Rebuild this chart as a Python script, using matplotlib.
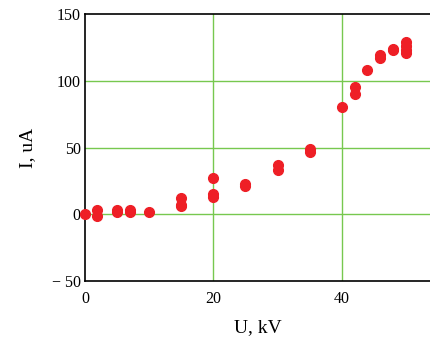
import numpy as np
import matplotlib
matplotlib.use("Agg")
import matplotlib.pyplot as plt

# measured points (voltage kV, current uA)
u_kv = [0, 1.8, 1.8, 5, 5, 7, 7, 10, 15, 15, 15, 20, 20, 20,
        25, 25, 30, 30, 35, 35, 40, 42, 42, 44, 46, 46, 48, 48,
        50, 50, 50, 50]
i_ua = [0, 3, -1, 2, 3, 2, 3, 2, 12, 7, 6, 27, 15, 13,
        23, 21, 37, 33, 49, 47, 80, 95, 90, 108, 119, 117, 124, 123,
        129, 126, 123, 121]

x_ticks = [0, 20, 40]
y_ticks = [-50, 0, 50, 100, 150]
y_tick_labels = ["\u2212 50", "0", "50", "100", "150"]

plt.rcParams['font.family'] = ['Liberation Serif', 'DejaVu Serif']

fig = plt.figure(figsize=(4.31, 3.42), dpi=100)
ax = fig.add_axes([85 / 431, 61 / 342, 1 - 85 / 431, 267 / 342])

green = '#77c84f'
for x in [20, 40]:
    ax.axvline(x, color=green, lw=1, zorder=1)
for y in [0, 50, 100]:
    ax.axhline(y, color=green, lw=1, zorder=1)

ax.plot(u_kv, i_ua, 'o', color='#ee1f26', ms=7, mec='#ee1f26', zorder=3, clip_on=False)

ax.set_xlim(0, 53.9)
ax.set_ylim(-50, 150)
ax.set_xticks(x_ticks)
ax.set_xticklabels([str(v) for v in x_ticks])
ax.set_yticks(y_ticks)
ax.set_yticklabels(y_tick_labels)
ax.tick_params(length=0, labelsize=11.5)
ax.tick_params(axis='x', pad=7)
ax.tick_params(axis='y', pad=3)

ax.spines['right'].set_visible(False)
for s in ['left', 'bottom', 'top']:
    ax.spines[s].set_color('black')
    ax.spines[s].set_linewidth(1.2)

ax.set_xlabel("U, kV", fontsize=14, labelpad=9)
ax.set_ylabel("I, uA", fontsize=14, labelpad=11)

fig.savefig("out.png", dpi=100)
